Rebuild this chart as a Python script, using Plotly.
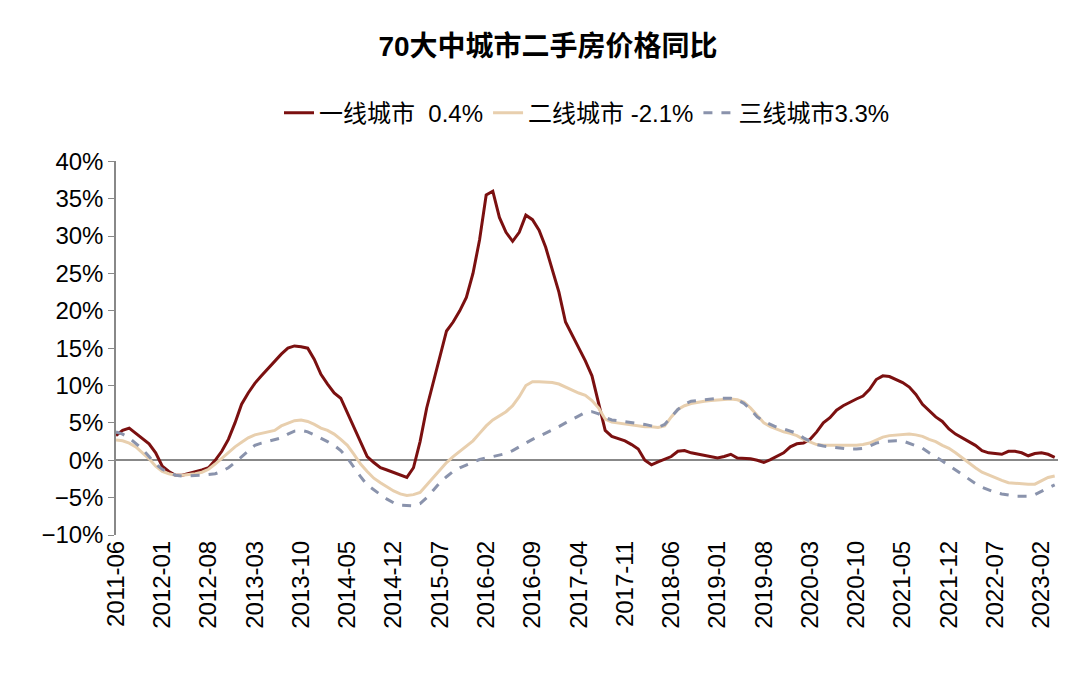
import plotly.graph_objects as go
import pandas as pd

months = pd.date_range("2011-06-01", periods=143, freq="MS").strftime("%Y-%m").tolist()

tier1 = [3.3,4.0,4.3,3.6,3.0,2.2,1.0,
 -0.8,-1.5,-2.0,-2.0,-1.8,-1.6,-1.3,
 -1.0,0.0,1.2,2.8,5.0,7.5,9.0,
 10.3,11.3,12.3,13.3,14.2,15.0,15.3,
 15.2,15.0,13.5,11.5,10.2,9.0,8.3,
 6.3,4.3,2.3,0.5,-0.3,-1.0,-1.3,
 -1.6,-2.0,-2.3,-1.0,2.5,7.0,10.5,
 14.0,17.3,18.5,20.0,21.8,25.0,29.5,
 35.5,36.0,32.5,30.5,29.3,30.5,32.8,
 32.2,30.8,28.5,25.5,22.5,18.5,16.8,
 15.0,13.3,11.3,7.5,4.0,3.2,2.9,
 2.6,2.1,1.5,0.0,-0.6,-0.2,0.2,
 0.5,1.2,1.3,1.0,0.8,0.6,0.4,
 0.3,0.5,0.8,0.3,0.2,0.2,0.0,
 -0.3,0.1,0.5,1.0,1.8,2.2,2.3,
 2.8,3.8,5.0,5.7,6.7,7.3,7.8,
 8.2,8.6,9.5,10.8,11.3,11.2,10.8,
 10.4,9.8,8.8,7.5,6.6,5.8,5.2,
 4.2,3.5,3.0,2.5,2.0,1.3,1.0,
 0.9,0.8,1.2,1.2,1.0,0.6,0.9,
 1.0,0.8,0.4]

tier2 = [2.7,2.6,2.3,1.8,1.0,0.2,-0.8,
 -1.5,-1.8,-2.0,-2.0,-1.9,-1.8,-1.6,
 -1.2,-0.5,0.3,1.0,1.8,2.4,3.0,
 3.4,3.6,3.8,4.0,4.6,5.0,5.3,
 5.4,5.2,4.8,4.3,4.0,3.5,2.8,
 2.0,0.8,-0.5,-1.5,-2.4,-3.0,-3.6,
 -4.1,-4.5,-4.7,-4.6,-4.3,-3.3,-2.3,
 -1.3,-0.3,0.5,1.2,1.8,2.6,3.6,
 4.6,5.4,6.0,6.5,7.3,8.5,10.0,
 10.5,10.5,10.5,10.4,10.2,9.8,9.3,
 9.0,8.7,8.0,7.0,5.5,5.1,5.0,
 4.9,4.7,4.6,4.5,4.5,4.4,4.6,
 5.8,6.8,7.3,7.6,7.8,7.9,8.0,
 8.1,8.2,8.2,8.1,7.8,7.0,6.0,
 5.0,4.5,4.1,3.8,3.6,3.3,2.8,
 2.4,2.1,2.0,2.0,1.9,1.9,1.9,
 2.0,2.1,2.3,2.7,3.1,3.3,3.4,
 3.5,3.5,3.4,3.2,2.8,2.5,2.0,
 1.6,1.0,0.3,-0.4,-1.0,-1.6,-2.0,
 -2.4,-2.7,-3.0,-3.1,-3.2,-3.2,-3.2,
 -2.8,-2.3,-2.1]

tier3 = [3.8,3.5,3.0,2.3,1.5,0.5,-0.5,
 -1.2,-1.6,-2.0,-2.1,-2.1,-2.1,-2.0,
 -1.9,-1.8,-1.5,-1.0,-0.3,0.5,1.3,
 2.0,2.3,2.5,2.8,3.0,3.5,3.9,
 4.0,3.8,3.4,3.0,2.5,2.0,1.3,
 0.3,-1.0,-2.2,-3.3,-4.0,-4.6,-5.2,
 -5.7,-6.0,-6.1,-6.1,-5.8,-5.0,-4.0,
 -3.0,-2.2,-1.5,-1.0,-0.6,-0.2,0.1,
 0.3,0.5,0.7,0.9,1.3,1.8,2.4,
 2.8,3.2,3.6,4.0,4.5,5.0,5.5,
 6.0,6.4,6.5,6.2,5.7,5.4,5.3,
 5.2,5.1,5.0,4.8,4.6,4.4,4.8,
 5.8,6.8,7.5,7.9,8.0,8.1,8.2,
 8.3,8.3,8.3,8.1,7.6,6.8,5.8,
 5.2,4.8,4.4,4.2,3.9,3.6,3.0,
 2.5,2.1,1.9,1.8,1.7,1.6,1.5,
 1.5,1.6,1.9,2.3,2.5,2.6,2.6,
 2.6,2.3,2.0,1.6,1.0,0.5,-0.1,
 -0.7,-1.3,-2.0,-2.6,-3.1,-3.6,-4.0,
 -4.3,-4.5,-4.7,-4.8,-4.8,-4.8,-4.6,
 -4.1,-3.7,-3.3]

names = ["一线城市  0.4%", "二线城市 -2.1%", "三线城市3.3%"]
idx = list(range(len(months)))

fig = go.Figure()
fig.add_trace(go.Scatter(x=idx, y=tier1, name=names[0], mode="lines",
                         line=dict(color="#7B1010", width=3)))
fig.add_trace(go.Scatter(x=idx, y=tier2, name=names[1], mode="lines",
                         line=dict(color="#E8CFAE", width=3)))
fig.add_trace(go.Scatter(x=idx, y=tier3, name=names[2], mode="lines",
                         line=dict(color="#8A93AC", width=3, dash="dash")))

tickvals = idx[::7]
ticktext = [months[i] for i in tickvals]
font = "Liberation Sans, Noto Sans CJK SC, sans-serif"
fig.update_layout(
    width=1080, height=688, plot_bgcolor="white", paper_bgcolor="white",
    font=dict(family=font, size=24, color="black"),
    title=dict(text="<b>70大中城市二手房价格同比</b>", x=0.5, y=0.945, xanchor="center",
               yanchor="middle", font=dict(size=28)),
    margin=dict(l=108, r=30, t=152, b=161),
    legend=dict(orientation="h", x=0.5, xanchor="center", yref="container",
                y=0.847, yanchor="middle", font=dict(size=24), tracegroupgap=0),
    xaxis=dict(range=[0, 142.5], tickvals=tickvals, ticktext=ticktext, tickangle=-90,
               showgrid=False, showline=False, zeroline=False, ticks=""),
    yaxis=dict(range=[-10, 40], dtick=5, ticksuffix="%", showgrid=False,
               showline=True, linecolor="#888", linewidth=1.5, ticks="outside",
               ticklen=6, tickcolor="#888", zeroline=True, zerolinecolor="#888",
               zerolinewidth=1.5),
)
fig.write_html("out.html")
